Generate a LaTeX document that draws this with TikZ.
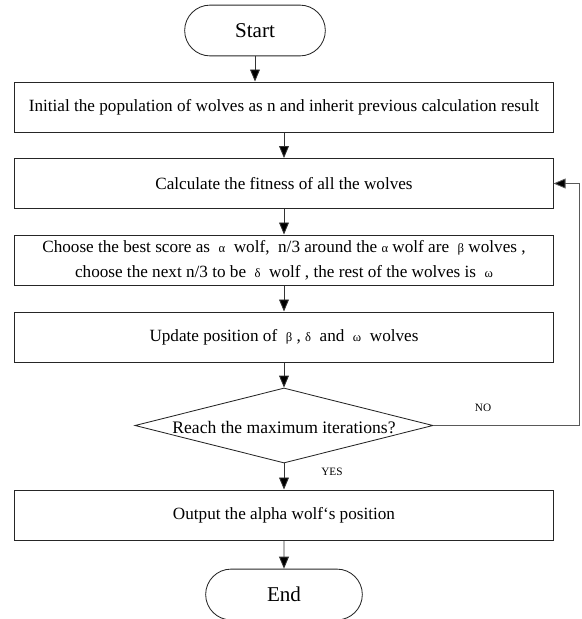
\documentclass[tikz,border=0pt]{standalone}
\usepackage{fontspec}
\setmainfont{Liberation Serif}
\usetikzlibrary{shapes.geometric,shapes.misc,arrows.meta}
\tikzset{
  box/.style={draw=black!85,line width=0.7pt,minimum width=13.45cm,minimum height=1.25cm,inner sep=2pt,font=\fontsize{12.2}{17.5}\selectfont,align=center},
  term/.style={draw=black!85,line width=0.6pt,rounded rectangle,minimum height=1.27cm,font=\fontsize{15}{18}\selectfont},
  flow/.style={draw=black!80,line width=0.6pt,-{Triangle[length=8.5pt,width=7pt,fill=black]}},
}
\newcommand{\gk}[1]{{\fontsize{9}{11}\selectfont #1}}
\begin{document}
\begin{tikzpicture}[x=0.025cm,y=-0.025cm]
\useasboundingbox (0,0) rectangle (582,619);
\node[term,minimum width=3.75cm] (start) at (255,30.5) {Start};
\node[box] (init) at (284,107) {Initial the population of wolves as n and inherit previous calculation result};
\node[box] (fit) at (284,183.5) {Calculate the fitness of all the wolves};
\node[box] (choose) at (284,260) {Choose the best score as \ \gk{α} \ wolf,\ \ n/3 around the \gk{α} wolf are \ \gk{β} wolves ,\\ choose the next n/3 to be \ \gk{δ} \ wolf , the rest of the wolves is \ \gk{ω}};
\node[box] (upd) at (284,337) {Update position of \ \gk{β} , \gk{δ} \ and \ \gk{ω} \ wolves};
\node[draw=black!85,line width=0.6pt,diamond,minimum width=7.45cm,minimum height=1.875cm,inner sep=0pt] (reach) at (284,425.5) {};
\node[font=\fontsize{12.5}{15}\selectfont] (reachtxt) at (284,428) {Reach the maximum iterations?};
\node[box] (out) at (284,515) {Output the alpha wolf‘s position};
\node[term,minimum width=4.15cm] (end) at (284,594.5) {End};
\coordinate (back) at (579,425.5);

\draw[flow] (start.south) -- (start.south|-init.north);
\draw[flow] (init) -- (fit);
\draw[flow] (fit) -- (choose);
\draw[flow] (choose) -- (upd);
\draw[flow] (upd) -- (reach);
\draw[flow] (reach) -- (out);
\draw[flow] (out) -- (end);
\draw[flow,draw=black!65] (reach.east) -- (back) |- (fit.east);
\node[font=\fontsize{8}{10}\selectfont] (no) at (483,408) {NO};
\node[font=\fontsize{8}{10}\selectfont] (yes) at (332,472) {YES};
\end{tikzpicture}
\end{document}
